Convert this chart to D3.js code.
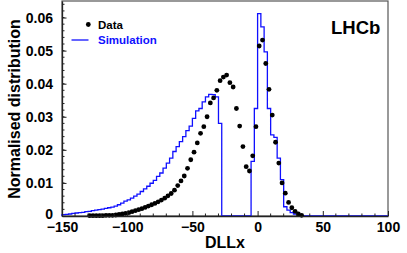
<!DOCTYPE html>
<html>
<head>
<meta charset="utf-8">
<script src="https://cdn.jsdelivr.net/npm/d3@7"></script>
<style>
    html, body { margin: 0; padding: 0; background: #fff; }
    svg { display: block; font-family: 'Liberation Sans', Arial, Helvetica, sans-serif; font-weight: bold; }
</style>
</head>
<body>
<svg id="chart" width="407" height="253"></svg>
<script>
// DLLx distributions, data vs simulation

var binLow = -150;
var binWidth = 2.5;

// simulation, one value per 2.5 wide bin from -150 to 100
var simValues = [
    0.0004, 0.0005, 0.0006, 0.0008, 0.0009, 0.0010, 0.0011, 0.0013, 0.0014, 0.0016,
    0.0018, 0.0019, 0.0021, 0.0023, 0.0025, 0.0027, 0.0030, 0.0034, 0.0039, 0.0045,
    0.0049, 0.0054, 0.0060, 0.0066, 0.0074, 0.0082, 0.0090, 0.0099, 0.0108, 0.0120,
    0.0130, 0.0145, 0.0160, 0.0175, 0.0195, 0.0210, 0.0225, 0.0240, 0.0258, 0.0272,
    0.0295, 0.0318, 0.0325, 0.0345, 0.0360, 0.0368, 0.0367, 0.0360, 0.0280, 0,
    0, 0, 0, 0, 0, 0, 0, 0, 0.0165, 0.0325,
    0.0612, 0.0572, 0.0496, 0.0325, 0.0245, 0.0238, 0.0175, 0.0110, 0.0028, 0.0018,
    0.0010, 0.0006, 0.0003, 0.0001, 0, 0, 0, 0, 0, 0,
    0, 0, 0, 0, 0, 0, 0, 0, 0, 0,
    0, 0, 0, 0, 0, 0, 0, 0, 0, 0
];

// data points (bin centres)
var dataX = [
    -128.75, -126.25, -123.75, -121.25, -118.75, -116.25, -113.75, -111.25, -108.75, -106.25,
    -103.75, -101.25, -98.75, -96.25, -93.75, -91.25, -88.75, -86.25, -83.75, -81.25,
    -78.75, -76.25, -73.75, -71.25, -68.75, -66.25, -63.75, -61.25, -58.75, -56.25,
    -53.75, -51.25, -48.75, -46.25, -43.75, -41.25, -38.75, -36.25, -33.75, -31.25,
    -28.75, -26.25, -23.75, -21.25, -18.75, -16.25, -13.75, -11.25, -8.75, -6.25,
    -3.75, -1.25, 1.25, 3.75, 6.25, 8.75, 11.25, 13.75, 16.25, 18.75,
    21.25, 23.75, 26.25, 28.75, 31.25, 33.75
];
var dataY = [
    0.0001, 0.0001, 0.0001, 0.0001, 0.0001, 0.0002, 0.0002, 0.0002, 0.0003, 0.0005,
    0.0006, 0.0008, 0.0010, 0.0013, 0.0016, 0.0019, 0.0022, 0.0026, 0.0030, 0.0034,
    0.0038, 0.0043, 0.0048, 0.0054, 0.0061, 0.0068, 0.0078, 0.0092, 0.0106, 0.0121,
    0.0144, 0.0170, 0.0193, 0.0221, 0.0250, 0.0270, 0.0300, 0.0342, 0.0357, 0.0380,
    0.0409, 0.0420, 0.0426, 0.0403, 0.0390, 0.0325, 0.0272, 0.0210, 0.0149, 0.0136,
    0.0182, 0.0270, 0.0514, 0.0532, 0.0461, 0.0383, 0.0305, 0.0223, 0.0160, 0.0100,
    0.0069, 0.0041, 0.0025, 0.0014, 0.0006, 0.0002
];

var xTicks = [ -150, -100, -50, 0, 50, 100 ];
var yTicks = [ 0, 0.01, 0.02, 0.03, 0.04, 0.05, 0.06 ];
var yTickLabels = [ '0', '0.01', '0.02', '0.03', '0.04', '0.05', '0.06' ];

var plot = { left: 62, right: 388, top: 1, bottom: 216 };

var svg = d3.select( '#chart' );

var x = d3.scaleLinear()
    .domain( [ -150, 100 ] )
    .range( [ plot.left, plot.right ] );

var y = d3.scaleLinear()
    .domain( [ 0, 0.065 ] )
    .range( [ plot.bottom, plot.top ] );

drawFrame();
drawHistogram();
drawPoints();
drawAxes();
drawLabels();

function drawFrame() {
    svg.append( 'rect' )
        .attr( 'x', plot.left )
        .attr( 'y', plot.top )
        .attr( 'width', plot.right - plot.left )
        .attr( 'height', plot.bottom - plot.top )
        .attr( 'fill', 'none' )
        .attr( 'stroke', '#555' )
        .attr( 'stroke-width', 1.2 );
}

function drawHistogram() {
    var pts = [ [ binLow, 0 ] ];
    simValues.forEach( function( v, i ) {
        var lo = binLow + i * binWidth;
        pts.push( [ lo, v ] );
        pts.push( [ lo + binWidth, v ] );
    });

    var line = d3.line()
        .x( function( d ) { return x( d[ 0 ] ); } )
        .y( function( d ) { return y( d[ 1 ] ); } );

    svg.append( 'path' )
        .attr( 'd', line( pts ) )
        .attr( 'fill', 'none' )
        .attr( 'stroke', '#1010ff' )
        .attr( 'stroke-width', 1.3 );
}

function drawPoints() {
    svg.append( 'g' )
        .selectAll( 'circle' )
        .data( dataX )
        .enter()
        .append( 'circle' )
        .attr( 'cx', function( d ) { return x( d ); } )
        .attr( 'cy', function( d, i ) { return y( dataY[ i ] ); } )
        .attr( 'r', 2.4 )
        .attr( 'fill', '#000' );
}

function drawAxes() {
    var xAxis = d3.axisBottom( x )
        .tickValues( xTicks )
        .tickSizeInner( -5 )
        .tickSizeOuter( 0 )
        .tickFormat( d3.format( 'd' ) );

    var gx = svg.append( 'g' )
        .attr( 'transform', 'translate( 0, ' + plot.bottom + ' )' )
        .call( xAxis );

    gx.selectAll( 'line, path' ).attr( 'stroke', '#222' );
    gx.select( 'path' ).attr( 'stroke-width', 1.3 );
    gx.selectAll( 'text' )
        .attr( 'fill', '#000' )
        .style( 'font-size', '14px' )
        .style( 'font-weight', 'bold' )
        .attr( 'dy', '0.71em' )
        .attr( 'y', 6 );

    // minor x ticks
    gx.selectAll( '.minor' )
        .data( d3.range( -140, 100, 10 ).filter( function( d ) { return d % 50 !== 0; } ) )
        .enter()
        .append( 'line' )
        .attr( 'x1', function( d ) { return x( d ); } )
        .attr( 'x2', function( d ) { return x( d ); } )
        .attr( 'y1', 0 )
        .attr( 'y2', -2.5 )
        .attr( 'stroke', '#222' );

    var yAxis = d3.axisLeft( y )
        .tickValues( yTicks )
        .tickSizeInner( -4.5 )
        .tickSizeOuter( 0 )
        .tickFormat( function( d, i ) { return yTickLabels[ i ]; } );

    var gy = svg.append( 'g' )
        .attr( 'transform', 'translate( ' + plot.left + ', 0 )' )
        .call( yAxis );

    gy.selectAll( 'line, path' ).attr( 'stroke', '#222' );
    gy.select( 'path' ).attr( 'stroke-width', 1.3 );
    gy.selectAll( 'text' )
        .attr( 'fill', '#000' )
        .attr( 'x', -9 )
        .style( 'font-size', '14px' )
        .style( 'font-weight', 'bold' );

    // the zero label sits a touch higher so it clears -150
    gy.selectAll( '.tick' )
        .filter( function( d ) { return d === 0; } )
        .select( 'text' )
        .attr( 'dy', '0.2em' );

    // minor y ticks
    gy.selectAll( '.minor' )
        .data( d3.range( 0.002, 0.065, 0.002 ) )
        .enter()
        .append( 'line' )
        .attr( 'x1', 0 )
        .attr( 'x2', 2.5 )
        .attr( 'y1', function( d ) { return y( d ); } )
        .attr( 'y2', function( d ) { return y( d ); } )
        .attr( 'stroke', '#222' );
}

function drawLabels() {
    svg.append( 'text' )
        .attr( 'x', ( plot.left + plot.right ) / 2 )
        .attr( 'y', 248 )
        .attr( 'text-anchor', 'middle' )
        .style( 'font-size', '16px' )
        .text( 'DLLx' );

    svg.append( 'text' )
        .attr( 'transform', 'translate( 20, 109 ) rotate( -90 )' )
        .attr( 'text-anchor', 'middle' )
        .style( 'font-size', '16px' )
        .text( 'Normalised distribution' );

    svg.append( 'text' )
        .attr( 'x', 331 )
        .attr( 'y', 34 )
        .style( 'font-size', '18.5px' )
        .text( 'LHCb' );

    // legend
    svg.append( 'circle' )
        .attr( 'cx', 88.3 )
        .attr( 'cy', 24.5 )
        .attr( 'r', 2.4 )
        .attr( 'fill', '#000' );

    svg.append( 'text' )
        .attr( 'x', 98 )
        .attr( 'y', 28.5 )
        .style( 'font-size', '11.5px' )
        .text( 'Data' );

    svg.append( 'line' )
        .attr( 'x1', 71.5 )
        .attr( 'x2', 88.5 )
        .attr( 'y1', 40 )
        .attr( 'y2', 40 )
        .attr( 'stroke', '#1010ff' )
        .attr( 'stroke-width', 1.3 );

    svg.append( 'text' )
        .attr( 'x', 98 )
        .attr( 'y', 44 )
        .attr( 'fill', '#1010ff' )
        .style( 'font-size', '11.5px' )
        .text( 'Simulation' );
}
</script>
</body>
</html>
